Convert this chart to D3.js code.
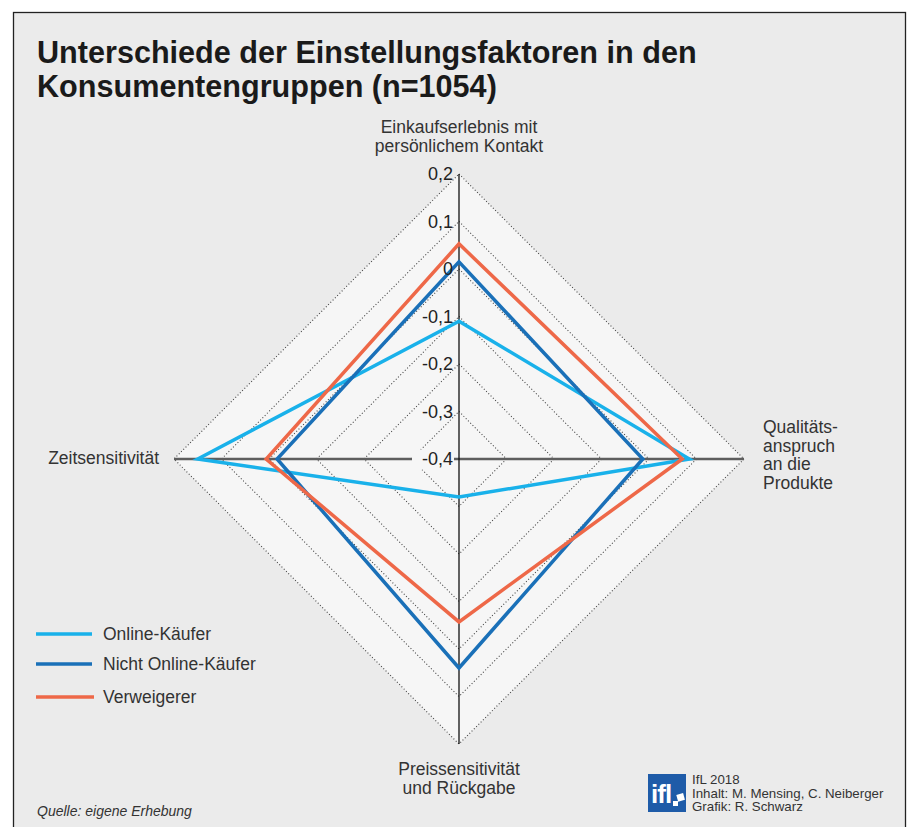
<!DOCTYPE html>
<html><head><meta charset="utf-8">
<script src="https://cdn.jsdelivr.net/npm/d3@7"></script>
<style>body{margin:0;background:#fff;}svg{display:block;font-family:"Liberation Sans",Arial,sans-serif;}</style>
</head><body><svg id="c" width="907" height="827"></svg>
<script>
const axes = ["Einkaufserlebnis mit persönlichem Kontakt", "Qualitätsanspruch an die Produkte", "Preissensitivität und Rückgabe", "Zeitsensitivität"];
const axisLabelLines = [["Einkaufserlebnis mit", "persönlichem Kontakt"], ["Qualitäts-", "anspruch", "an die", "Produkte"], ["Preissensitivität", "und Rückgabe"], ["Zeitsensitivität"]];
const seriesNames = ["Online-Käufer", "Nicht Online-Käufer", "Verweigerer"];
const onlineValues = [-0.11, 0.085, -0.32, 0.15];
const nichtOnlineValues = [0.015, -0.013, 0.04, -0.017];
const verweigererValues = [0.053, 0.07, -0.057, 0.006];
const tickValues = [0.2, 0.1, 0, -0.1, -0.2, -0.3, -0.4];
const colors = ["#19b1ea", "#1a70b8", "#ee6848"];

const svg = d3.select("#c");
const cx = 459, cy = 459, R = 285;
const r = d3.scaleLinear().domain([-0.4, 0.2]).range([0, R]);
const ang = d3.scalePoint().domain(d3.range(axes.length)).range([0, 2*Math.PI*(axes.length-1)/axes.length]);

// frame
svg.append("rect").attr("x",13.5).attr("y",12.5).attr("width",892).attr("height",830).attr("fill","#ebebeb").attr("stroke","#222").attr("stroke-width",1.3);

// title
const title = svg.append("text").attr("x",37).attr("y",63).attr("font-size",30.6).attr("font-weight","bold").attr("fill","#1a1a1a");
title.append("tspan").attr("x",37).text("Unterschiede der Einstellungsfaktoren in den");
title.append("tspan").attr("x",37).attr("dy",34).text("Konsumentengruppen (n=1054)");

const g = svg.append("g").attr("transform",`translate(${cx},${cy})`);
const ringLine = d3.lineRadial().angle((d,i)=>ang(i)).radius(d=>r(d)).curve(d3.curveLinearClosed);

// outer diamond fill
g.append("path").attr("d", ringLine(axes.map(()=>0.2))).attr("fill","#f6f6f6");
// dotted rings
tickValues.filter(v=>v>-0.4).forEach(v=>{
  g.append("path").attr("d", ringLine(axes.map(()=>v))).attr("fill","none").attr("stroke","#444").attr("stroke-width",1.1).attr("stroke-dasharray","1,2.2");
});
// horizontal axis (gray) and vertical axis (black)
g.append("line").attr("x1",-r(0.2)).attr("x2",r(0.2)).attr("y1",0).attr("y2",0).attr("stroke","#5e5e5e").attr("stroke-width",2.5);
g.append("line").attr("x1",0).attr("x2",0).attr("y1",-r(0.2)).attr("y2",r(0.2)).attr("stroke","#111").attr("stroke-width",1.3);

// series
const allSeries = [onlineValues, nichtOnlineValues, verweigererValues];
allSeries.forEach((vals,i)=>{
  g.append("path").attr("d", ringLine(vals)).attr("fill","none").attr("stroke",colors[i]).attr("stroke-width",3.5).attr("stroke-linejoin","miter");
});

// tick labels via axis
const yScale = d3.scaleLinear().domain([-0.4,0.2]).range([cy, cy-R]);
const fmt = v => v===0 ? "0" : (v<0?"-":"") + Math.abs(v).toFixed(1).replace(".",",");
const ax = svg.append("g").attr("transform",`translate(${cx-3},0)`)
  .call(d3.axisLeft(yScale).tickValues(tickValues).tickSize(0).tickPadding(3).tickFormat(fmt));
ax.select(".domain").remove();
ax.selectAll("text").attr("font-size",18).attr("fill","#222").attr("font-family","Liberation Sans, Arial, sans-serif");
// background behind -0,4
ax.selectAll(".tick").filter(d=>d===-0.4).insert("rect","text").attr("x",-44).attr("y",-10).attr("width",42).attr("height",20).attr("fill","#f6f6f6");

// axis labels
const lab = svg.append("g").attr("font-size",17.5).attr("fill","#333");
const t0 = lab.append("text").attr("text-anchor","middle").attr("y",133);
axisLabelLines[0].forEach((s,i)=>t0.append("tspan").attr("x",cx).attr("dy",i?19:0).text(s));
const t1 = lab.append("text").attr("y",433);
axisLabelLines[1].forEach((s,i)=>t1.append("tspan").attr("x",763).attr("dy",i?18.7:0).text(s));
const t2 = lab.append("text").attr("text-anchor","middle").attr("y",775);
axisLabelLines[2].forEach((s,i)=>t2.append("tspan").attr("x",cx).attr("dy",i?18.5:0).text(s));
lab.append("text").attr("x",159).attr("y",464).attr("text-anchor","end").text(axisLabelLines[3][0]);

// legend
const leg = svg.append("g");
const legY = [634, 664, 697];
seriesNames.forEach((n,i)=>{
  leg.append("line").attr("x1",36).attr("x2",i===2?94:92).attr("y1",legY[i]).attr("y2",legY[i]).attr("stroke",colors[i]).attr("stroke-width",3.5);
  leg.append("text").attr("x",103).attr("y",legY[i]+6).attr("font-size",17.5).attr("fill","#333").text(n);
});

// source
svg.append("text").attr("x",37).attr("y",816).attr("font-size",14).attr("font-style","italic").attr("fill","#333").text("Quelle: eigene Erhebung");

// logo
svg.append("rect").attr("x",648).attr("y",774).attr("width",38).attr("height",38).attr("fill","#1e5ba8");
svg.append("text").attr("x",651).attr("y",803).attr("font-size",26).attr("font-weight","bold").attr("fill","#fff").attr("letter-spacing",-1).text("ifl");
svg.append("rect").attr("x",673).attr("y",801).attr("width",5).attr("height",5).attr("fill","#fff");
svg.append("rect").attr("x",677).attr("y",794).attr("width",7).attr("height",7).attr("fill","#fff").attr("transform","rotate(-15,680,797)");
const credits = ["IfL 2018", "Inhalt: M. Mensing, C. Neiberger", "Grafik: R. Schwarz"];
credits.forEach((s,i)=>svg.append("text").attr("x",692).attr("y",784+i*13.5).attr("font-size",13.3).attr("fill","#333").text(s));
</script></body></html>
